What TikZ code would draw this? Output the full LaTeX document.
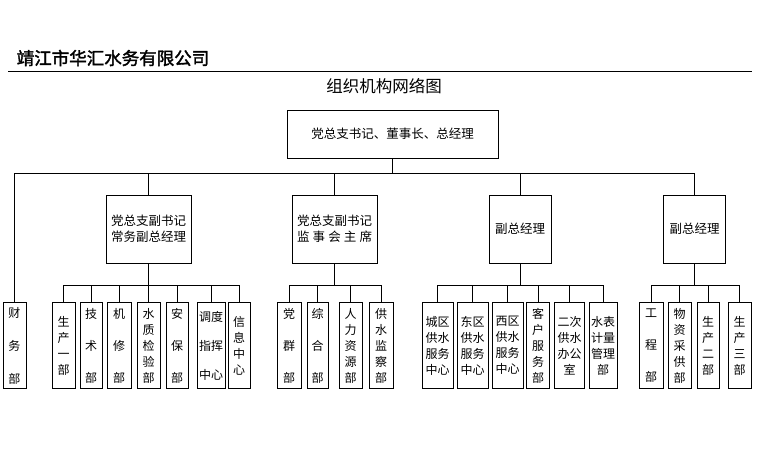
\documentclass[tikz,border=0pt]{standalone}
\usepackage{fontspec}
\newfontfamily\cjk{Noto Sans CJK SC}
\newfontfamily\cjkhead[FakeBold=2]{Noto Sans CJK SC}
\tikzset{
  % lines of the tree
  link/.style={black,line width=0.9pt},
  % box of a head of the company
  headbox/.style={
    draw=black,line width=0.9pt,
    inner sep=0pt,align=center,
    font=\cjk\fontsize{12.5}{16}\selectfont
  },
  % narrow box of a department, text runs top to bottom
  deptbox/.style={
    draw=black,line width=0.9pt,
    anchor=north,minimum height=86pt,
    inner sep=0pt,align=center,
    font=\cjk\fontsize{12}{16}\selectfont
  },
}

\begin{document}
\begin{tikzpicture}[x=1pt,y=-1pt]
\useasboundingbox (0,0) rectangle (760,454);
\node[font=\cjkhead\fontsize{17.5}{20}\selectfont] (firm) at (113,58){靖江市华汇水务有限公司};
\coordinate (ruleL) at (8,71);
\coordinate (ruleR) at (752,71);
\draw [link](ruleL)--(ruleR);
\node[font=\cjk\fontsize{16.5}{20}\selectfont] (title) at (384,86){组织机构网络图};

\node[headbox,minimum width=211pt,minimum height=48pt] (gm) at (392.5,134){党总支书记、董事长、总经理};
\node[headbox,minimum width=85pt,minimum height=68pt] (vp1) at (148.5,229){党总支副书记\\常务副总经理};
\node[headbox,minimum width=85pt,minimum height=68pt] (vp2) at (334.5,229){党总支副书记\\监\hspace{.25em}事\hspace{.25em}会\hspace{.25em}主\hspace{.25em}席};
\node[headbox,minimum width=62pt,minimum height=68pt] (vp3) at (520,229){副总经理};
\node[headbox,minimum width=62pt,minimum height=68pt] (vp4) at (694.5,229){副总经理};

\node[deptbox,minimum width=23pt] (fin) at (14.5,302){财\\[17pt]务\\[17pt]部};

\node[deptbox,minimum width=23pt] (pd1) at (63.5,302){生\\产\\一\\部};
\node[deptbox,minimum width=22pt] (tec) at (91,302){技\\[16pt]术\\[16pt]部};
\node[deptbox,minimum width=24pt] (rep) at (119,302){机\\[16pt]修\\[16pt]部};
\node[deptbox,minimum width=23pt] (wq) at (148.5,302){水\\质\\检\\验\\部};
\node[deptbox,minimum width=22pt] (safe) at (177,302){安\\[16pt]保\\[16pt]部};
\node[deptbox,minimum width=28pt] (disp) at (211,302){调度\\[13pt]指挥\\[13pt]中心};
\node[deptbox,minimum width=22pt] (info) at (239,302){信\\息\\中\\心};

\node[deptbox,minimum width=24pt] (party) at (289,302){党\\[16pt]群\\[16pt]部};
\node[deptbox,minimum width=21pt] (adm) at (317.5,302){综\\[16pt]合\\[16pt]部};
\node[deptbox,minimum width=23pt] (hr) at (350.5,302){人\\力\\资\\源\\部};
\node[deptbox,minimum width=24pt] (insp) at (381,302){供\\水\\监\\察\\部};

\node[deptbox,minimum width=31pt] (city) at (437.5,302){城区\\供水\\服务\\中心};
\node[deptbox,minimum width=31pt] (east) at (472.5,302){东区\\供水\\服务\\中心};
\node[deptbox,minimum width=31pt] (west) at (507.5,302){西区\\供水\\服务\\中心};
\node[deptbox,minimum width=23pt] (cust) at (538,302){客\\户\\服\\务\\部};
\node[deptbox,minimum width=30pt] (boost) at (569.5,302){二次\\供水\\办公\\室};
\node[deptbox,minimum width=28pt] (meter) at (603,302){水表\\计量\\管理\\部};

\node[deptbox,minimum width=24pt] (eng) at (651,302){工\\[16pt]程\\[16pt]部};
\node[deptbox,minimum width=23pt] (buy) at (679.5,302){物\\资\\采\\供\\部};
\node[deptbox,minimum width=22pt] (pd2) at (708,302){生\\产\\二\\部};
\node[deptbox,minimum width=23pt] (pd3) at (739.5,302){生\\产\\三\\部};

\coordinate (bus) at (392.5,173.5);
\draw [link](gm.south)--(bus);
\draw [link](fin.north)|-(bus)-|(vp4.north);
\draw [link](vp1.north)--(vp1.north|-bus);
\draw [link](vp2.north)--(vp2.north|-bus);
\draw [link](vp3.north)--(vp3.north|-bus);

\coordinate (sub1) at (148.5,285.5);
\draw [link](vp1.south)--(sub1);
\draw [link](pd1.north)|-(sub1)-|(info.north);
\draw [link](tec.north)--(tec.north|-sub1);
\draw [link](rep.north)--(rep.north|-sub1);
\draw [link](wq.north)--(wq.north|-sub1);
\draw [link](safe.north)--(safe.north|-sub1);
\draw [link](disp.north)--(disp.north|-sub1);

\coordinate (sub2) at (334.5,285.5);
\draw [link](vp2.south)--(sub2);
\draw [link](party.north)|-(sub2)-|(insp.north);
\draw [link](adm.north)--(adm.north|-sub2);
\draw [link](hr.north)--(hr.north|-sub2);

\coordinate (sub3) at (520,285.5);
\draw [link](vp3.south)--(sub3);
\draw [link](city.north)|-(sub3)-|(meter.north);
\draw [link](east.north)--(east.north|-sub3);
\draw [link](west.north)--(west.north|-sub3);
\draw [link](cust.north)--(cust.north|-sub3);
\draw [link](boost.north)--(boost.north|-sub3);

\coordinate (sub4) at (694.5,285.5);
\draw [link](vp4.south)--(sub4);
\draw [link](eng.north)|-(sub4)-|(pd3.north);
\draw [link](buy.north)--(buy.north|-sub4);
\draw [link](pd2.north)--(pd2.north|-sub4);
\end{tikzpicture}
\end{document}
